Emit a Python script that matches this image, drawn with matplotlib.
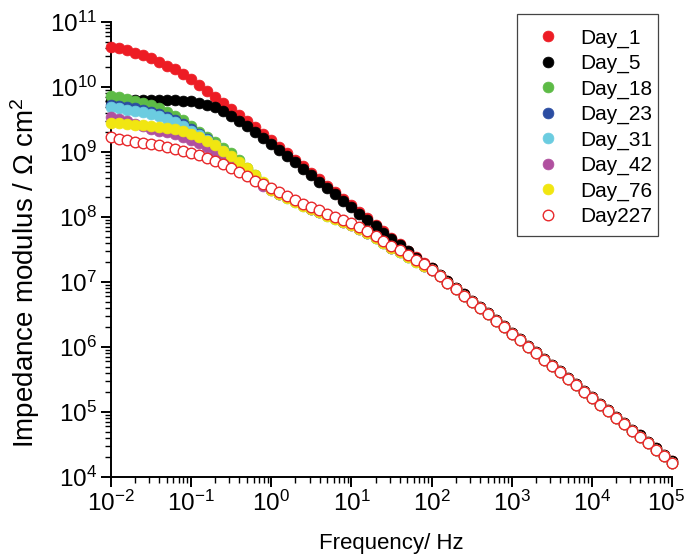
import numpy as np
import matplotlib
matplotlib.use("Agg")
import matplotlib.pyplot as plt
from matplotlib.ticker import LogLocator, FuncFormatter, NullFormatter
from matplotlib.patches import Rectangle
import matplotlib.transforms as mtransforms

plt.rcParams['font.family'] = ['Liberation Sans', 'DejaVu Sans']
plt.rcParams['mathtext.fontset'] = 'custom'
plt.rcParams['mathtext.rm'] = 'Liberation Sans'
plt.rcParams['mathtext.it'] = 'Liberation Sans:italic'
plt.rcParams['axes.unicode_minus'] = False

# frequency grid (Hz), 10 points per decade
freq = [0.01, 0.0126, 0.0158, 0.02, 0.0251, 0.0316, 0.0398, 0.0501, 0.0631, 0.0794,
        0.1, 0.126, 0.158, 0.2, 0.251, 0.316, 0.398, 0.501, 0.631, 0.794,
        1, 1.26, 1.58, 2, 2.51, 3.16, 3.98, 5.01, 6.31, 7.94,
        10, 12.6, 15.8, 20, 25.1, 31.6, 39.8, 50.1, 63.1, 79.4,
        100, 126, 158, 200, 251, 316, 398, 501, 631, 794,
        1000, 1259, 1585, 1995, 2512, 3162, 3981, 5012, 6310, 7943,
        10000, 12589, 15849, 19953, 25119, 31623, 39811, 50119, 63096, 79433, 100000]

# log10 |Z|, f = 0.01 ... 79.4 Hz
day1 = [10.62, 10.60, 10.57, 10.53, 10.49, 10.44, 10.39, 10.33, 10.27, 10.20,
        10.12, 10.03, 9.94, 9.85, 9.76, 9.66, 9.57, 9.47, 9.38, 9.28,
        9.18, 9.08, 8.98, 8.88, 8.78, 8.68, 8.58, 8.48, 8.38, 8.28,
        8.18, 8.08, 7.98, 7.88, 7.78, 7.68, 7.58, 7.48, 7.38, 7.29]
day5 = [9.79, 9.80, 9.80, 9.80, 9.80, 9.80, 9.80, 9.80, 9.80, 9.79,
        9.78, 9.76, 9.73, 9.69, 9.63, 9.56, 9.48, 9.40, 9.31, 9.22,
        9.13, 9.03, 8.94, 8.84, 8.74, 8.64, 8.54, 8.45, 8.35, 8.25,
        8.15, 8.05, 7.96, 7.86, 7.76, 7.66, 7.57, 7.47, 7.37, 7.28]
day18 = [9.86, 9.84, 9.82, 9.79, 9.76, 9.72, 9.67, 9.62, 9.56, 9.49,
         9.40, 9.31, 9.23, 9.15, 9.06, 8.98, 8.87, 8.76, 8.64, 8.53,
         8.43, 8.36, 8.30, 8.24, 8.18, 8.13, 8.08, 8.03, 7.98, 7.94,
         7.89, 7.83, 7.76, 7.69, 7.61, 7.53, 7.47, 7.40, 7.32, 7.25]
day23 = [9.73, 9.71, 9.69, 9.67, 9.65, 9.62, 9.58, 9.54, 9.49, 9.43,
         9.36, 9.28, 9.20, 9.11, 9.02, 8.92, 8.82, 8.72, 8.62, 8.52,
         8.43, 8.36, 8.30, 8.24, 8.18, 8.13, 8.08, 8.03, 7.98, 7.93,
         7.88, 7.82, 7.75, 7.68, 7.60, 7.53, 7.46, 7.39, 7.32, 7.25]
day31 = [9.69, 9.67, 9.65, 9.63, 9.61, 9.58, 9.55, 9.51, 9.46, 9.40,
         9.33, 9.26, 9.18, 9.10, 9.01, 8.91, 8.81, 8.71, 8.61, 8.51,
         8.42, 8.35, 8.29, 8.23, 8.17, 8.12, 8.07, 8.02, 7.97, 7.92,
         7.87, 7.81, 7.75, 7.68, 7.60, 7.52, 7.46, 7.39, 7.31, 7.24]
day42 = [9.54, 9.50, 9.47, 9.43, 9.40, 9.36, 9.33, 9.30, 9.27, 9.23,
         9.19, 9.14, 9.08, 9.01, 8.93, 8.85, 8.76, 8.67, 8.57, 8.48,
         8.42, 8.36, 8.30, 8.24, 8.18, 8.13, 8.08, 8.03, 7.98, 7.93,
         7.88, 7.82, 7.76, 7.69, 7.61, 7.53, 7.47, 7.40, 7.32, 7.25]
day76 = [9.45, 9.44, 9.43, 9.42, 9.41, 9.40, 9.39, 9.37, 9.35, 9.32,
         9.28, 9.23, 9.17, 9.10, 9.02, 8.94, 8.85, 8.75, 8.65, 8.54,
         8.42, 8.35, 8.29, 8.23, 8.17, 8.12, 8.07, 8.02, 7.97, 7.93,
         7.88, 7.82, 7.75, 7.68, 7.60, 7.52, 7.46, 7.39, 7.31, 7.25]
day227 = [9.23, 9.20, 9.18, 9.16, 9.14, 9.12, 9.10, 9.08, 9.05, 9.02,
          8.99, 8.95, 8.91, 8.86, 8.81, 8.75, 8.69, 8.63, 8.56, 8.50,
          8.44, 8.38, 8.32, 8.26, 8.20, 8.15, 8.10, 8.05, 8.00, 7.96,
          7.91, 7.85, 7.78, 7.71, 7.63, 7.55, 7.49, 7.42, 7.34, 7.27]

# high frequency part, 100 Hz ... 100 kHz (all curves overlap)
tail_hi = [7.21, 7.11, 7.01, 6.91, 6.81, 6.71, 6.62, 6.52, 6.42, 6.32,
           6.22, 6.12, 6.02, 5.92, 5.82, 5.72, 5.63, 5.53, 5.43, 5.33,
           5.23, 5.13, 5.03, 4.93, 4.83, 4.73, 4.64, 4.54, 4.44, 4.34, 4.24]
tail_lo = [7.19, 7.09, 6.99, 6.89, 6.79, 6.69, 6.60, 6.50, 6.40, 6.30,
           6.20, 6.10, 6.00, 5.90, 5.80, 5.70, 5.61, 5.51, 5.41, 5.31,
           5.21, 5.11, 5.01, 4.91, 4.81, 4.71, 4.62, 4.52, 4.42, 4.32, 4.22]

labels = ['Day_1', 'Day_5', 'Day_18', 'Day_23', 'Day_31', 'Day_42', 'Day_76', 'Day227']
colors = ['#ED1C24', '#000000', '#5DBB46', '#2B4DA2', '#6BCCE0', '#B0509F', '#F1E611', '#E8282B']
series = [day1 + tail_hi, day5 + tail_hi, day18 + tail_lo, day23 + tail_lo,
          day31 + tail_lo, day42 + tail_lo, day76 + tail_lo, day227 + tail_lo]

W, H = 686, 558
fig = plt.figure(figsize=(W / 100, H / 100), dpi=100)
ax = fig.add_axes([0.1618, 0.1452, 0.8178, 0.8154])

for lab, col, vals in zip(labels, colors, series):
    z = 10 ** np.array(vals)
    if lab == 'Day227':
        ax.plot(freq, z, 'o', ms=7.6, mfc='white', mec=col, mew=1.0,
                label=lab, clip_on=False, zorder=3)
    else:
        ax.plot(freq, z, 'o', ms=7.8, mfc=col, mec=col, mew=0.5,
                label=lab, clip_on=False, zorder=3)

ax.set_xscale('log')
ax.set_yscale('log')
ax.set_xlim(1e-2, 1e5)
ax.set_ylim(1e4, 1e11)

for s in ['top', 'right']:
    ax.spines[s].set_visible(False)
for s in ['left', 'bottom']:
    ax.spines[s].set_linewidth(1.4)

fmt = FuncFormatter(lambda v, p: r'$\mathregular{10^{%d}}$' % int(round(np.log10(v))))
ax.xaxis.set_major_locator(LogLocator(base=10, numticks=20))
ax.yaxis.set_major_locator(LogLocator(base=10, numticks=20))
ax.xaxis.set_minor_locator(LogLocator(base=10, subs=range(2, 10), numticks=20))
ax.yaxis.set_minor_locator(LogLocator(base=10, subs=range(2, 10), numticks=20))
ax.xaxis.set_major_formatter(fmt)
ax.yaxis.set_major_formatter(fmt)
ax.xaxis.set_minor_formatter(NullFormatter())
ax.yaxis.set_minor_formatter(NullFormatter())
ax.tick_params(which='major', direction='out', length=7, width=1.4, labelsize=17.5, pad=3)
ax.tick_params(which='minor', direction='out', length=4, width=1.0)

ax.set_xlabel('Frequency/ Hz', fontsize=16, labelpad=12)
ax.set_ylabel('Impedance modulus / \u03a9 cm$^\\mathregular{2}$', fontsize=20)
ax.yaxis.set_label_coords(-0.123, 0.448)

# legend entries without frame, box drawn separately
leg = ax.legend(loc='upper left', bbox_to_anchor=(531.4 / W, 1 - 28.4 / H),
                bbox_transform=fig.transFigure, fontsize=15, frameon=False,
                borderpad=0, labelspacing=0.3, handlelength=1.6,
                handletextpad=0.73, borderaxespad=0)
fig.patches.append(Rectangle((517 / W, 1 - 236 / H), 141 / W, 222 / H,
                             transform=fig.transFigure, fill=False,
                             edgecolor='#444444', linewidth=0.9))

# keep the last x tick label inside the figure
fig.canvas.draw()
shift = mtransforms.ScaledTranslation(-6 / 100, 0, fig.dpi_scale_trans)
for t in ax.xaxis.get_major_ticks():
    if abs(t.get_loc() - 1e5) < 1:
        t.label1.set_transform(t.label1.get_transform() + shift)

plt.savefig('out.png', dpi=100)
